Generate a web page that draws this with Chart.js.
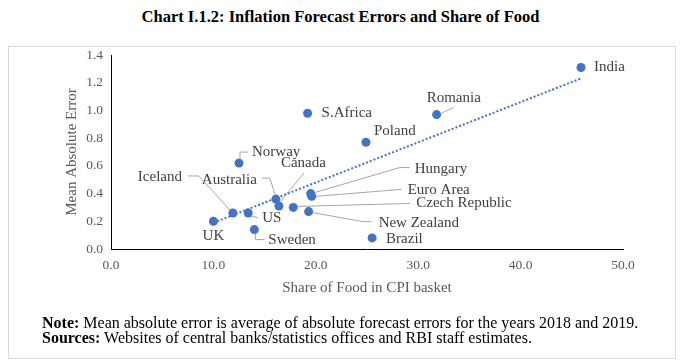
<!DOCTYPE html>
<html>
<head>
<meta charset="utf-8">
<title>Inflation Forecast Errors and Share of Food</title>
<script src="https://cdn.jsdelivr.net/npm/chart.js@4.4.1/dist/chart.umd.min.js"></script>
<style>
  body { margin: 0; background: #fff; font-family: "Liberation Serif", "Times New Roman", serif; }
  #wrap { position: relative; width: 681px; height: 362px; overflow: hidden; }
  #title { position: absolute; left: 0; top: 7px; width: 681px; text-align: center; font-weight: bold; font-size: 16.5px; line-height: 20px; color: #000; }
  #box { position: absolute; left: 8px; top: 46px; width: 668px; height: 313px; border: 1px solid #d9d9d9; box-sizing: border-box; }
  #chartbox { position: absolute; left: 0; top: 0; width: 681px; height: 362px; }
  #note { position: absolute; left: 42px; top: 315px; font-size: 16px; line-height: 15px; color: #000; white-space: nowrap; }
</style>
</head>
<body>
<div id="wrap">
  <div id="title">Chart I.1.2: Inflation Forecast Errors and Share of Food</div>
  <div id="box"></div>
  <div id="chartbox"><canvas id="scatterchart"></canvas></div>
  <div id="note">
    <b>Note:</b> Mean absolute error is average of absolute forecast errors for the years 2018 and 2019.<br>
    <b>Sources:</b> Websites of central banks/statistics offices and RBI staff estimates.
  </div>
</div>

<script>
// start data
const countries = ['UK', 'Iceland', 'US', 'Sweden', 'Norway', 'Australia', 'Canada', 'Czech Republic',
  'Hungary', 'Euro Area', 'New Zealand', 'S.Africa', 'Poland', 'Brazil', 'Romania', 'India'];
const foodShare = [10.0, 11.9, 13.4, 14.0, 12.5, 16.1, 16.4, 17.8, 19.5, 19.6, 19.3, 19.2, 24.9, 25.5, 31.8, 45.9];
const meanAbsError = [0.20, 0.26, 0.26, 0.14, 0.62, 0.36, 0.31, 0.30, 0.40, 0.38, 0.27, 0.98, 0.77, 0.08, 0.97, 1.31];
const xTickValues = [0, 10, 20, 30, 40, 50];
const yTickValues = [0, 0.2, 0.4, 0.6, 0.8, 1.0, 1.2, 1.4];
// end data

// label spots, in pixels from the point (left-middle of the text unless align says otherwise)
const placement = {
  'UK':             { dx: 0,   dy: 15, align: 'center' },
  'Iceland':        { dx: -95, dy: -36, leader: [[-45, -37], [-34, -37], [-3, -3]] },
  'US':             { dx: 14,  dy: 5,  leader: [[3, 3], [10, 5]] },
  'Sweden':         { dx: 14,  dy: 10, leader: [[1, 4], [1, 10], [10, 10]] },
  'Norway':         { dx: 13,  dy: -11, leader: [[1, -5], [1, -11], [9, -11]] },
  'Australia':      { dx: -74, dy: -19, leader: [[-14, -21], [-6, -21], [-1, -5]] },
  'Canada':         { dx: 2,   dy: -43, leader: [[25, -33], [2, -5]] },
  'Czech Republic': { dx: 123, dy: -4, leader: [[4, -1], [117, -4]] },
  'Hungary':        { dx: 104, dy: -25, leader: [[4, -1], [89, -26], [99, -26]] },
  'Euro Area':      { dx: 96,  dy: -6, leader: [[4, 0], [90, -7]] },
  'New Zealand':    { dx: 70,  dy: 11, leader: [[4, 1], [54, 10], [63, 10]] },
  'S.Africa':       { dx: 14,  dy: 0 },
  'Poland':         { dx: 8,   dy: -11 },
  'Brazil':         { dx: 14,  dy: 1 },
  'Romania':        { dx: -10, dy: -17, leader: [[4, -1], [17, -7]] },
  'India':          { dx: 13,  dy: 0 }
};

// linear trend (least squares), like the excel trendline
const n = foodShare.length;
const mx = foodShare.reduce((a, b) => a + b, 0) / n;
const my = meanAbsError.reduce((a, b) => a + b, 0) / n;
let sxy = 0, sxx = 0;
foodShare.forEach((x, i) => { sxy += (x - mx) * (meanAbsError[i] - my); sxx += (x - mx) * (x - mx); });
const slope = sxy / sxx;
const intercept = my - slope * mx;
const xMin = Math.min(...foodShare), xMax = Math.max(...foodShare);
const trendPoints = [xMin, xMax].map(x => ({ x: x, y: intercept + slope * x }));

const serif = '"Liberation Serif", "Times New Roman", serif';

const pointLabels = {
  id: 'pointLabels',
  afterDatasetsDraw(chart) {
    const meta = chart.getDatasetMeta(0);
    const ctx = chart.ctx;
    ctx.save();
    meta.data.forEach((pt, i) => {
      const p = placement[countries[i]];
      if (!p) return;
      if (p.leader) {
        ctx.beginPath();
        ctx.strokeStyle = '#a6a6a6';
        ctx.lineWidth = 1;
        p.leader.forEach(([lx, ly], k) => {
          if (k === 0) ctx.moveTo(pt.x + lx, pt.y + ly);
          else ctx.lineTo(pt.x + lx, pt.y + ly);
        });
        ctx.stroke();
      }
      ctx.fillStyle = '#404040';
      ctx.font = '15px ' + serif;
      ctx.textAlign = p.align || 'left';
      ctx.textBaseline = 'middle';
      ctx.fillText(countries[i], pt.x + p.dx, pt.y + p.dy);
    });
    ctx.restore();
  }
};

const ctx = document.getElementById('scatterchart');

let scatter = new Chart(ctx, {
  type: 'scatter',
  data: {
    datasets: [{
      label: 'Countries',
      data: foodShare.map((x, i) => ({ x: x, y: meanAbsError[i] })),
      backgroundColor: '#4472C4',
      borderWidth: 0,
      pointRadius: 4.5,
      order: 0
    }, {
      label: 'Trend',
      type: 'line',
      data: trendPoints,
      borderColor: '#4472C4',
      borderWidth: 2,
      borderDash: [2, 2],
      pointRadius: 0,
      fill: false,
      order: 1
    }]
  },
  options: {
    responsive: true,
    maintainAspectRatio: false,
    animation: false,
    layout: { padding: { left: 63, right: 58, top: 55, bottom: 63 } },
    plugins: {
      legend: { display: false },
      tooltip: { enabled: false }
    },
    scales: {
      x: {
        type: 'linear',
        min: 0,
        max: 50,
        afterBuildTicks: s => { s.ticks = xTickValues.map(v => ({ value: v })); },
        afterFit: s => { s.height = 50; },
        grid: { display: false, drawTicks: false },
        border: { color: '#000', width: 1 },
        ticks: { padding: 8, color: '#595959', font: { family: serif, size: 13.5 }, callback: v => Number(v).toFixed(1) },
        title: { display: true, text: 'Share of Food in CPI basket', color: '#595959', font: { family: serif, size: 15 }, padding: { top: 0, bottom: 2 } }
      },
      y: {
        type: 'linear',
        min: 0,
        max: 1.4,
        afterBuildTicks: s => { s.ticks = yTickValues.map(v => ({ value: v })); },
        afterFit: s => { s.width = 48; },
        grid: { display: false, drawTicks: false },
        border: { color: '#000', width: 1 },
        ticks: { padding: 8, color: '#595959', font: { family: serif, size: 13.5 }, callback: v => Number(v).toFixed(1) },
        title: { display: true, text: 'Mean Absolute Error', color: '#595959', font: { family: serif, size: 15 }, padding: { top: 0, bottom: 0 } }
      }
    }
  },
  plugins: [pointLabels]
});
</script>
</body>
</html>
